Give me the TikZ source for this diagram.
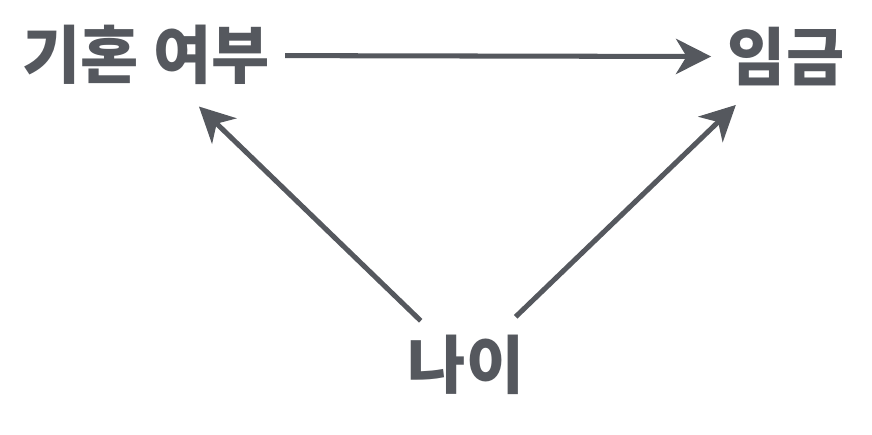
\documentclass[tikz,border=0pt]{standalone}
\usepackage{fontspec}
\newfontfamily\kr{Noto Sans CJK KR}
\usetikzlibrary{arrows.meta}
\definecolor{edgegray}{HTML}{55585E}
\tikzset{
  var/.style={rectangle, inner sep=0pt, text=edgegray, font=\kr\bfseries\fontsize{54}{54}\selectfont},
  arr/.style={draw=edgegray, line width=4.3pt, -{Stealth[length=30pt, width=30pt, inset=9pt]}}
}
\begin{document}
\begin{tikzpicture}
  \useasboundingbox (0,0) rectangle (26.16,13.02);
  % Nodes
  \node (marr) [var] at (4.38, 11.36) {기혼 여부};
  \node (wage) [var] at (23.58, 11.32) {임금};
  \node (age) [var] at (13.98, 2.08) {나이};
  % Arrow
  \draw[arr, shorten <=13pt, shorten >=14pt] (marr) -- (wage);
  \draw[arr, shorten <=17pt, shorten >=26pt] (age) -- (marr);
  \draw[arr, shorten <=22pt, shorten >=23pt] (age) -- (wage);
\end{tikzpicture}
\end{document}
